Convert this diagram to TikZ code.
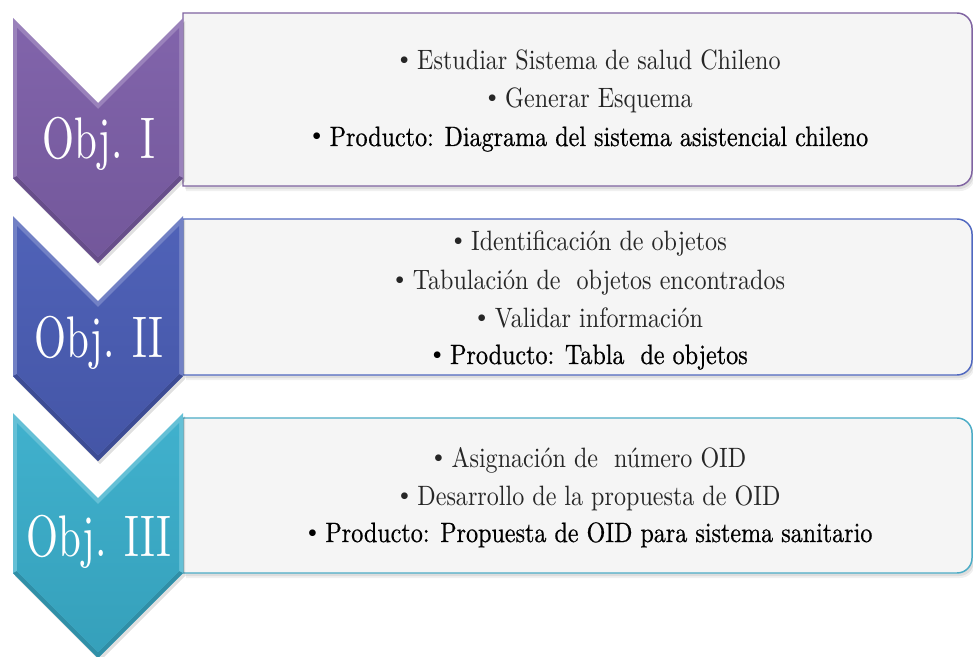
\documentclass[tikz,border=0pt]{standalone}
\usepackage{fontspec}
\setmainfont{Latin Modern Roman}
\newfontfamily\bodyfont{lmroman10-regular}[Extension=.otf,FakeStretch=0.86]
\newfontfamily\prodfont{lmroman10-regular}[Extension=.otf,FakeStretch=0.86,FakeBold=0.6]
\newfontfamily\objfont{lmroman10-regular}[Extension=.otf,FakeStretch=0.70]
\newfontfamily\bulfont{Liberation Serif}
\newcommand\bul{{\bulfont •}}
\definecolor{objA}{HTML}{7D5FA8}
\definecolor{objB}{HTML}{4A5DB5}
\definecolor{objC}{HTML}{3AAECB}
\definecolor{bordA}{HTML}{8064A2}
\definecolor{bordB}{HTML}{5068C0}
\definecolor{bordC}{HTML}{4BACC6}
\definecolor{boxfill}{HTML}{F5F5F5}
\tikzset{
  objlabel/.style={text=white, font=\objfont\fontsize{44}{44}\selectfont, anchor=base, inner sep=0pt},
  itemtext/.style={anchor=base, font=\bodyfont\fontsize{21}{21}\selectfont, text=black!85, inner sep=0pt},
  prodtext/.style={anchor=base, font=\prodfont\fontsize{21}{21}\selectfont, text=black, inner sep=0pt},
}
\newcommand\mychevron[3]{%
  \fill[black,opacity=0.12] (15,#1+3) -- (100,#1+88) -- (185,#1+3) -- (185,#2+3) -- (100,#2+88) -- (15,#2+3) -- cycle;
  \fill[#3!78!white] (13,#1) -- (98,#1+85) -- (183,#1) -- (183,#2) -- (98,#2+85) -- (13,#2) -- cycle;
  \fill[#3!82!black] (13,#2) -- (98,#2+85) -- (183,#2) -- (179,#2-2) -- (98,#2+79) -- (17,#2-2) -- cycle;
  \shade[top color=#3!97!white, bottom color=#3!92!black] (17,#1+10) -- (98,#1+91) -- (179,#1+10) -- (179,#2-2) -- (98,#2+79) -- (17,#2-2) -- cycle;
}
\newcommand\mybox[3]{%
  \fill[black,opacity=0.06] (186,#1+5) -- (960,#1+5) .. controls (968.3,#1+5) and (975,#1+11.7) .. (975,#1+20) -- (975,#2-10) .. controls (975,#2-1.7) and (968.3,#2+5) .. (960,#2+5) -- (186,#2+5) -- cycle;
  \fill[black,opacity=0.08] (185,#1+3) -- (959,#1+3) .. controls (967.3,#1+3) and (974,#1+9.7) .. (974,#1+18) -- (974,#2-12) .. controls (974,#2-3.7) and (967.3,#2+3) .. (959,#2+3) -- (185,#2+3) -- cycle;
  \filldraw[fill=boxfill, draw=#3, line width=1.1pt] (183,#1) -- (957,#1) .. controls (965.3,#1) and (972,#1+6.7) .. (972,#1+15) -- (972,#2-15) .. controls (972,#2-6.7) and (965.3,#2) .. (957,#2) -- (183,#2) -- cycle;
}
\begin{document}
\begin{tikzpicture}[x=0.75pt,y=-0.75pt]
\useasboundingbox (0,0) rectangle (973,656);
\clip (0,0) rectangle (973,656);
\fill[white] (0,0) rectangle (973,656);
% boxes
\mybox{13}{186}{bordA}
\mybox{219}{375}{bordB}
\mybox{418}{573}{bordC}
% chevrons
\mychevron{18}{178}{objA}
\mychevron{216}{376}{objB}
\mychevron{413}{573}{objC}
% labels
\node[objlabel] (o1) at (99,158) {Obj. I};
\node[objlabel] (o2) at (99,357) {Obj. II};
\node[objlabel] (o3) at (99,556) {Obj. III};
% box 1
\node[itemtext] (a1) at (590,70) {\bul\ Estudiar Sistema de salud Chileno};
\node[itemtext] (a2) at (590,108) {\bul\ Generar Esquema};
\node[prodtext] (a3) at (590,146) {\bul\ Producto: Diagrama del sistema asistencial chileno};
% box 2
\node[itemtext] (b1) at (590,250) {\bul\ Identificación de objetos};
\node[itemtext] (b2) at (590,289) {\bul\ Tabulación de~ objetos encontrados};
\node[itemtext] (b3) at (590,327) {\bul\ Validar información};
\node[prodtext] (b4) at (590,364) {\bul\ Producto: Tabla~ de objetos};
% box 3
\node[itemtext] (c1) at (590,467) {\bul\ Asignación de~ número OID};
\node[itemtext] (c2) at (590,505) {\bul\ Desarrollo de la propuesta de OID};
\node[prodtext] (c3) at (590,542) {\bul\ Producto: Propuesta de OID para sistema sanitario};
\end{tikzpicture}
\end{document}
